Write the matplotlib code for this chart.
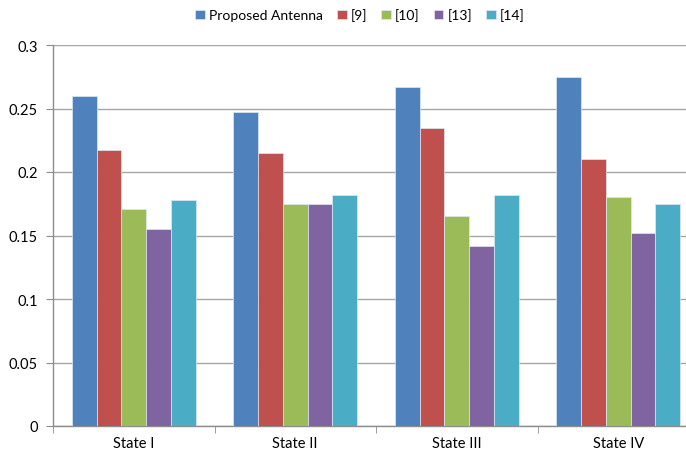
import matplotlib
matplotlib.use("Agg")
import matplotlib.pyplot as plt
import numpy as np

categories = ["State I", "State II", "State III", "State IV"]
series_names = ["Proposed Antenna", "[9]", "[10]", "[13]", "[14]"]
proposed = [0.260, 0.247, 0.267, 0.275]
ref9 = [0.217, 0.215, 0.235, 0.210]
ref10 = [0.171, 0.175, 0.165, 0.180]
ref13 = [0.155, 0.175, 0.142, 0.152]
ref14 = [0.178, 0.182, 0.182, 0.175]
y_ticks = [0, 0.05, 0.1, 0.15, 0.2, 0.25, 0.3]

series = [proposed, ref9, ref10, ref13, ref14]
colors = ["#4F81BD", "#C0504D", "#9BBB59", "#8064A2", "#4BACC6"]

plt.rcParams["font.family"] = ["Lato", "DejaVu Sans"]

fig = plt.figure(figsize=(6.86, 4.56), dpi=100)
ax = fig.add_axes([53 / 686, 29 / 456, 646 / 686, 381 / 456])

x = np.arange(len(categories))
w = 0.153
for i, (vals, name, c) in enumerate(zip(series, series_names, colors)):
    ax.bar(x + (i - 2) * w, vals, width=w, color=c, label=name,
           edgecolor="#dfe8f2", linewidth=0.5, zorder=3)

ax.set_xlim(-0.5, len(categories) - 0.5)
ax.set_ylim(0, 0.3)
ax.set_yticks(y_ticks)
ax.set_yticklabels([f"{v:g}" for v in y_ticks])
ax.yaxis.grid(True, color="#a6a6a6", linewidth=1.0, zorder=0)
ax.set_axisbelow(True)

# category labels centred, tick marks at category boundaries
ax.set_xticks(x)
ax.set_xticklabels(categories)
ax.set_xticks(np.arange(len(categories) + 1) - 0.5, minor=True)
ax.tick_params(axis="x", which="major", length=0, pad=7, labelsize=10.5, colors="black")
ax.tick_params(axis="x", which="minor", length=5, color="#8c8c8c")
ax.tick_params(axis="y", length=5, color="#8c8c8c", labelsize=10.5, pad=6)

for s in ["top", "right"]:
    ax.spines[s].set_visible(False)
for s in ["left", "bottom"]:
    ax.spines[s].set_color("#8c8c8c")
    ax.spines[s].set_linewidth(1.0)

fig.legend(loc="center", bbox_to_anchor=(360 / 686, 1 - 16 / 456), ncol=5,
           frameon=False, fontsize=10, handlelength=0.7, handleheight=0.7,
           handletextpad=0.3, columnspacing=1.0)

fig.savefig("out.png", dpi=100)
